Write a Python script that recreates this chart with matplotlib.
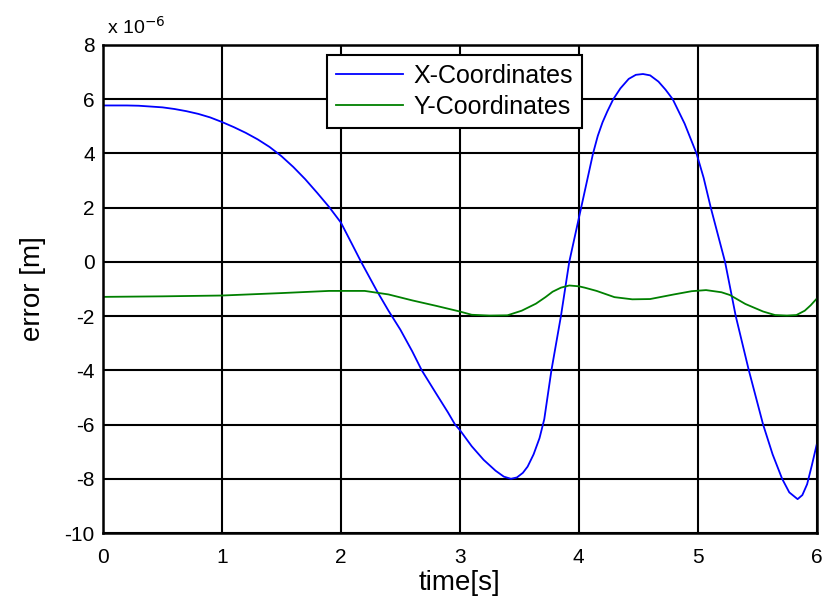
import numpy as np
import matplotlib
matplotlib.use('Agg')
import matplotlib.pyplot as plt

plt.rcParams['font.family'] = ['Liberation Sans', 'DejaVu Sans']
plt.rcParams['axes.unicode_minus'] = False

# errors, in units of 1e-6 m
t_x = [0.0, 0.0, 0.1, 0.2, 0.3, 0.4, 0.5, 0.6, 0.7, 0.8, 0.9, 1.0, 1.1, 1.2,
       1.3, 1.4, 1.5, 1.6, 1.7, 1.8, 1.9, 2.0, 2.1, 2.17, 2.3, 2.4, 2.5, 2.6,
       2.68, 2.8, 2.9, 2.96, 3.0, 3.1, 3.2, 3.3, 3.37, 3.43, 3.48, 3.53, 3.57,
       3.62, 3.67, 3.71, 3.77, 3.85, 3.92, 4.02, 4.07, 4.12, 4.16, 4.2, 4.24,
       4.29, 4.35, 4.42, 4.48, 4.54, 4.6, 4.67, 4.73, 4.79, 4.89, 4.99, 5.05,
       5.11, 5.17, 5.23, 5.32, 5.43, 5.55, 5.63, 5.71, 5.77, 5.84, 5.88, 5.92,
       5.96, 6.0]
err_x = [0.0, 5.77, 5.77, 5.77, 5.76, 5.73, 5.70, 5.64, 5.56, 5.46, 5.33, 5.16, 4.97, 4.76,
         4.52, 4.24, 3.90, 3.50, 3.05, 2.55, 2.03, 1.45, 0.6, 0.0, -1.05, -1.8, -2.5, -3.3,
         -4.0, -4.85, -5.55, -6.0, -6.2, -6.8, -7.3, -7.7, -7.92, -8.0, -7.95, -7.78, -7.55,
         -7.1, -6.5, -5.8, -4.0, -2.0, 0.0, 2.0, 3.0, 4.0, 4.65, 5.15, 5.55,
         6.0, 6.4, 6.75, 6.9, 6.93, 6.88, 6.65, 6.35, 6.0, 5.1, 4.0, 3.1,
         2.0, 1.0, 0.0, -2.0, -4.0, -6.0, -7.1, -8.0, -8.5, -8.75, -8.6, -8.2,
         -7.5, -6.75]

t_y = [0.0, 0.0, 0.5, 1.0, 1.5, 1.9, 2.2, 2.4, 2.6, 2.8, 3.0, 3.1, 3.25,
       3.4, 3.52, 3.64, 3.72, 3.78, 3.85, 3.92, 4.0, 4.05, 4.15, 4.3, 4.45,
       4.6, 4.8, 4.95, 5.07, 5.2, 5.27, 5.4, 5.55, 5.65, 5.75, 5.83, 5.9, 5.95, 6.0]
err_y = [0.0, -1.29, -1.27, -1.24, -1.15, -1.07, -1.07, -1.2, -1.42, -1.62, -1.83, -1.95, -1.98,
         -1.97, -1.8, -1.54, -1.3, -1.1, -0.95, -0.87, -0.9, -0.95, -1.07, -1.3, -1.38,
         -1.37, -1.2, -1.08, -1.04, -1.12, -1.22, -1.55, -1.83, -1.96, -1.98, -1.96, -1.8, -1.6, -1.36]

x_ticks = [0, 1, 2, 3, 4, 5, 6]
y_ticks = [8, 6, 4, 2, 0, -2, -4, -6, -8, -10]

fig = plt.figure(figsize=(8.35, 6.04), dpi=100)
ax = fig.add_axes([0.1234, 0.1175, 0.8546, 0.808])

ax.plot(t_x, err_x, color='#0000ff', lw=1.3, label='X-Coordinates')
ax.plot(t_y, err_y, color='#008000', lw=1.3, label='Y-Coordinates')

ax.set_xlim(0, 6)
ax.set_ylim(-10, 8)
ax.set_xticks(x_ticks)
ax.set_yticks(y_ticks)
ax.grid(True, color='black', lw=1.5, ls='-')
ax.set_axisbelow(True)
ax.tick_params(axis='y', direction='in', length=0, labelsize=15, pad=6)
ax.tick_params(axis='x', direction='in', length=0, labelsize=15, pad=11)
for s in ax.spines.values():
    s.set_linewidth(1.8)

ax.set_xlabel('time[s]', fontsize=20, labelpad=2)
ax.set_ylabel('error [m]', fontsize=20, labelpad=13)
ax.text(0.005, 1.015, r'x 10$^{-6}$', transform=ax.transAxes, fontsize=14,
        ha='left', va='bottom')

leg = ax.legend(loc='upper left', bbox_to_anchor=(0.314, 0.98), fontsize=18,
                fancybox=False, framealpha=1, edgecolor='black',
                handlelength=2.7, handletextpad=0.4, borderpad=0.35,
                labelspacing=0.3, borderaxespad=0)
leg.get_frame().set_linewidth(1.5)

fig.savefig('out.png', dpi=100)
